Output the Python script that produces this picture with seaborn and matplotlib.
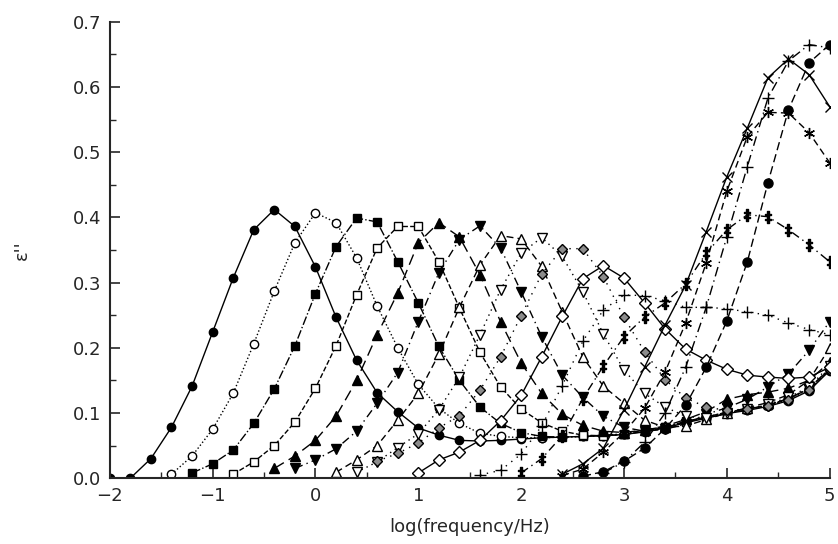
import numpy as np
import seaborn as sns
import matplotlib.pyplot as plt

sns.set_style("ticks")
plt.rcParams['font.family'] = ['DejaVu Sans']

n = np.nan

log_f = [-2.0, -1.8, -1.6, -1.4, -1.2, -1.0, -0.8, -0.6, -0.4, -0.2,
         0.0, 0.2, 0.4, 0.6, 0.8, 1.0, 1.2, 1.4, 1.6, 1.8,
         2.0, 2.2, 2.4, 2.6, 2.8, 3.0, 3.2, 3.4, 3.6, 3.8,
         4.0, 4.2, 4.4, 4.6, 4.8, 5.0]

s01 = [0.0, 0.0, 0.03, 0.078, 0.141, 0.224, 0.307, 0.381, 0.412, 0.386,
       0.324, 0.247, 0.181, 0.131, 0.102, 0.077, 0.066, 0.058, 0.057, 0.058,
       0.060, 0.062, 0.063, 0.064, 0.065, 0.067, 0.071, 0.077, 0.085, 0.092,
       0.099, 0.104, 0.110, 0.119, 0.134, 0.165]
s02 = [0.006, 0.034, 0.075, 0.13, 0.206, 0.287, 0.361,
       0.407, 0.392, 0.338, 0.264, 0.200, 0.144, 0.107, 0.084, 0.069, 0.064,
       0.062, 0.062, 0.063, 0.064, 0.065, 0.067, 0.072, 0.078, 0.086, 0.093,
       0.100, 0.105, 0.111, 0.121, 0.137, 0.168]
s03 = [0.008, 0.022, 0.043, 0.084, 0.137, 0.203,
       0.283, 0.355, 0.399, 0.393, 0.332, 0.269, 0.202, 0.150, 0.109, 0.084,
       0.070, 0.064, 0.063, 0.064, 0.066, 0.068, 0.074, 0.079, 0.087, 0.094,
       0.101, 0.106, 0.112, 0.122, 0.138, 0.168]
s04 = [0.006, 0.025, 0.05, 0.086,
       0.138, 0.203, 0.281, 0.353, 0.386, 0.386, 0.332, 0.261, 0.193, 0.140,
       0.106, 0.085, 0.072, 0.066, 0.065, 0.067, 0.072, 0.078, 0.086, 0.094,
       0.101, 0.106, 0.112, 0.122, 0.137, 0.167]
s05 = [0.015, 0.034,
       0.058, 0.095, 0.150, 0.220, 0.284, 0.361, 0.392, 0.370, 0.312, 0.240,
       0.177, 0.130, 0.098, 0.081, 0.072, 0.070, 0.074, 0.080, 0.090, 0.102,
       0.121, 0.128, 0.132, 0.138, 0.150, 0.178]
s06 = [0.015,
       0.028, 0.045, 0.072, 0.115, 0.162, 0.240, 0.315, 0.366, 0.387, 0.353,
       0.286, 0.217, 0.158, 0.124, 0.095, 0.078, 0.072, 0.075, 0.083, 0.098,
       0.108, 0.121, 0.140, 0.160, 0.196, 0.240]
s07 = [0.009, 0.028, 0.050, 0.089, 0.130, 0.190, 0.262, 0.327, 0.372,
       0.367, 0.325, 0.255, 0.186, 0.141, 0.115, 0.089, 0.078, 0.080, 0.090,
       0.100, 0.108, 0.116, 0.128, 0.150, 0.200]
s08 = [0.009, 0.025, 0.047, 0.068, 0.105, 0.155, 0.220, 0.289,
       0.345, 0.369, 0.340, 0.286, 0.221, 0.166, 0.130, 0.109, 0.095, 0.092,
       0.100, 0.106, 0.113, 0.124, 0.140, 0.172]
s09 = [0.026, 0.038, 0.054, 0.077, 0.096, 0.135, 0.186,
       0.249, 0.313, 0.352, 0.352, 0.309, 0.247, 0.194, 0.151, 0.123, 0.109,
       0.104, 0.106, 0.110, 0.120, 0.135, 0.166]
s10 = [0.008, 0.028, 0.040, 0.058, 0.088,
       0.127, 0.186, 0.248, 0.306, 0.326, 0.307, 0.269, 0.229, 0.198, 0.181,
       0.167, 0.158, 0.155, 0.153, 0.155, 0.170]
s11 = [0.005, 0.012,
       0.037, 0.080, 0.142, 0.210, 0.258, 0.281, 0.280, 0.272, 0.262, 0.262,
       0.260, 0.255, 0.250, 0.238, 0.228, 0.220]
s12 = [0.008, 0.030, 0.065, 0.122, 0.172, 0.217, 0.247, 0.269, 0.298, 0.345,
       0.381, 0.404, 0.401, 0.381, 0.358, 0.332]
s13 = [0.004, 0.014, 0.040, 0.070, 0.107, 0.163, 0.238, 0.330,
       0.440, 0.524, 0.561, 0.560, 0.530, 0.484]
s14 = [0.006, 0.022, 0.046, 0.105, 0.170, 0.235, 0.296, 0.378,
       0.462, 0.537, 0.614, 0.643, 0.619, 0.570]
s15 = [0.008, 0.025, 0.055, 0.100, 0.170, 0.262,
       0.370, 0.478, 0.583, 0.640, 0.665, 0.660]
s16 = [0.003, 0.010, 0.026, 0.046, 0.076, 0.112, 0.170,
       0.241, 0.332, 0.453, 0.565, 0.637, 0.665]

x_ticks = [-2, -1, 0, 1, 2, 3, 4, 5]
x_tick_labels = ['\u22122', '\u22121', '0', '1', '2', '3', '4', '5']
y_ticks = [0.0, 0.1, 0.2, 0.3, 0.4, 0.5, 0.6, 0.7]


def pad(vals):
    # series start at different frequencies; fill the missing low end
    return [n] * (len(log_f) - len(vals)) + list(vals)


series = [
    (s01, '-', 'o', 'k', 6),
    (s02, ':', 'o', 'w', 6),
    (s03, '-.', 's', 'k', 6),
    (s04, '--', 's', 'w', 6),
    (s05, (0, (8, 4)), '^', 'k', 6.5),
    (s06, (0, (6, 3, 1, 3)), 'v', 'k', 6.5),
    (s07, (0, (5, 3)), '^', 'w', 6.5),
    (s08, (0, (1, 3)), 'v', 'w', 6.5),
    (s09, (0, (1, 4)), 'D', '0.55', 5.5),
    (s10, '-', 'D', 'w', 6),
    (s11, (0, (1, 4)), '+', 'k', 8),
    (s12, (0, (6, 3, 1, 3)), '$\u2021$', 'k', 8),
    (s13, (0, (5, 3)), (6, 2, 0), 'k', 8),
    (s14, '-', 'x', 'k', 7),
    (s15, (0, (7, 3, 1, 3)), '+', 'k', 8),
    (s16, (0, (6, 3)), 'o', 'k', 6.5),
]

fig, ax = plt.subplots(figsize=(8.38, 5.44), dpi=100)
fig.subplots_adjust(left=0.131, right=0.990, bottom=0.121, top=0.96)

for vals, ls, mk, fc, ms in series:
    sns.lineplot(x=log_f, y=pad(vals), ax=ax, color='k', linestyle=ls,
                 linewidth=1.0, marker=mk, markersize=ms,
                 markerfacecolor=fc, markeredgecolor='k',
                 markeredgewidth=1.0, estimator=None, sort=False)

ax.set_xlim(-2, 5)
ax.set_ylim(0, 0.7)
ax.set_xticks(x_ticks)
ax.set_xticklabels(x_tick_labels)
ax.set_yticks(y_ticks)
ax.set_yticklabels([f"{v:.1f}" for v in y_ticks])
ax.set_xticks(np.arange(-1.5, 5, 1.0), minor=True)
ax.set_yticks(np.arange(0.05, 0.7, 0.1), minor=True)
ax.tick_params(which='major', direction='in', length=7, width=1.2,
               labelsize=13, pad=6)
ax.tick_params(which='minor', direction='in', length=4, width=1.0)

sns.despine(ax=ax)
for sp in ['left', 'bottom']:
    ax.spines[sp].set_linewidth(1.5)

ax.set_xlabel("log(frequency/Hz)", fontsize=13, labelpad=10)
ax.set_ylabel("\u03b5''", fontsize=13, labelpad=30)

plt.savefig("out.png", dpi=100)
